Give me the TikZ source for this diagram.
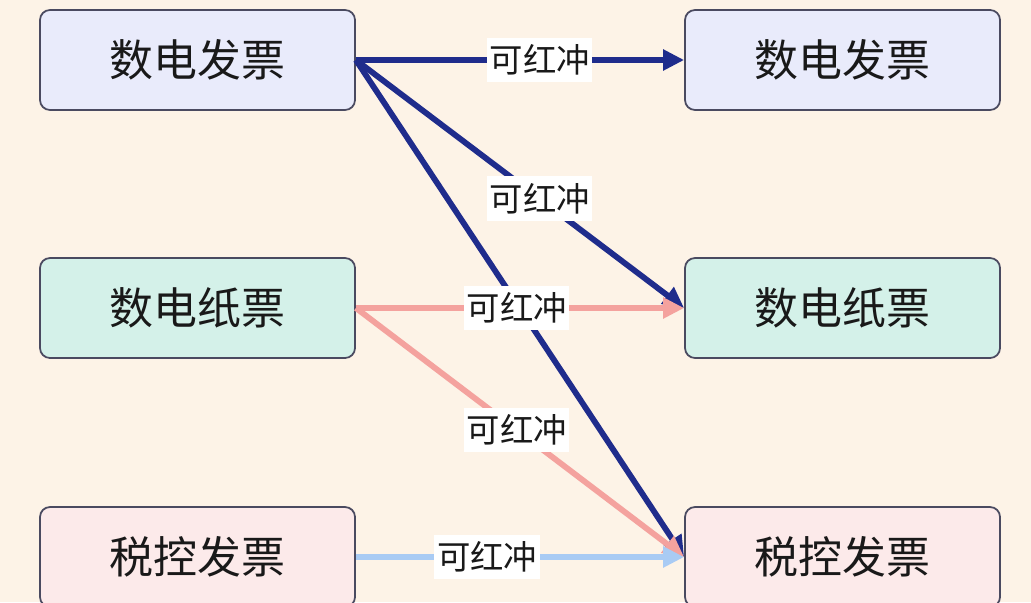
\documentclass[tikz,border=0pt]{standalone}
\usepackage{fontspec}
\setmainfont{Noto Sans CJK SC}
\usepackage{xcolor}
\usetikzlibrary{arrows.meta, positioning}

\definecolor{bgcream}{HTML}{FDF3E7}
\definecolor{boxline}{HTML}{4A4A60}
\definecolor{fillblue}{HTML}{E9EBFB}
\definecolor{fillmint}{HTML}{D4F1E9}
\definecolor{fillrose}{HTML}{FCEAEA}
\definecolor{navyline}{HTML}{1F2C8C}
\definecolor{pinkline}{HTML}{F4A29E}
\definecolor{skyline}{HTML}{A9CBF4}

\begin{document}
\begin{tikzpicture}[
  invbox/.style={draw=boxline, line width=1pt, rounded corners=0.2cm,
                 minimum width=6.3cm, minimum height=2cm, text=black!90,
                 font=\fontsize{25}{29}\selectfont},
  redline/.style={line width=3.3pt, -{Triangle[length=0.42cm,width=0.4cm]}},
  tag/.style={fill=white, inner xsep=1.5pt, inner ysep=4pt, text=black!90,
              font=\fontsize{19}{22}\selectfont}
]
% Background
\fill[bgcream] (0,0) rectangle (20.62,-12.04);
\useasboundingbox (0,0) rectangle (20.62,-12.04);

% Invoice types, left (from) and right (to)
\node[invbox, fill=fillblue] (eleft)  at (3.95,-1.2)   {数电发票};
\node[invbox, fill=fillmint] (pleft)  at (3.95,-6.16)  {数电纸票};
\node[invbox, fill=fillrose] (tleft)  at (3.95,-11.14) {税控发票};
\node[invbox, fill=fillblue] (eright) at (16.85,-1.2)   {数电发票};
\node[invbox, fill=fillmint] (pright) at (16.85,-6.16)  {数电纸票};
\node[invbox, fill=fillrose] (tright) at (16.85,-11.14) {税控发票};

% Arrows
\draw[redline, navyline] (eleft.east) -- (eright.west);
\draw[redline, navyline] (eleft.east) -- (pright.west);
\draw[redline, navyline] (eleft.east) -- (tright.west);
\draw[redline, pinkline] (pleft.east) -- (tright.west);
\draw[redline, pinkline] (pleft.east) -- (pright.west);
\draw[redline, skyline]  (tleft.east) -- (tright.west);

% Labels
\path (eleft.east) -- (eright.west) node[tag, pos=0.56] (lab1) {可红冲};
\path (eleft.east) -- (pright.west) node[tag, pos=0.56] (lab2) {可红冲};
\path (pleft.east) -- (pright.west) node[tag, pos=0.49] (lab3) {可红冲};
\path (pleft.east) -- (tright.west) node[tag, pos=0.49] (lab4) {可红冲};
\path (tleft.east) -- (tright.west) node[tag, pos=0.40] (lab5) {可红冲};
\end{tikzpicture}
\end{document}
